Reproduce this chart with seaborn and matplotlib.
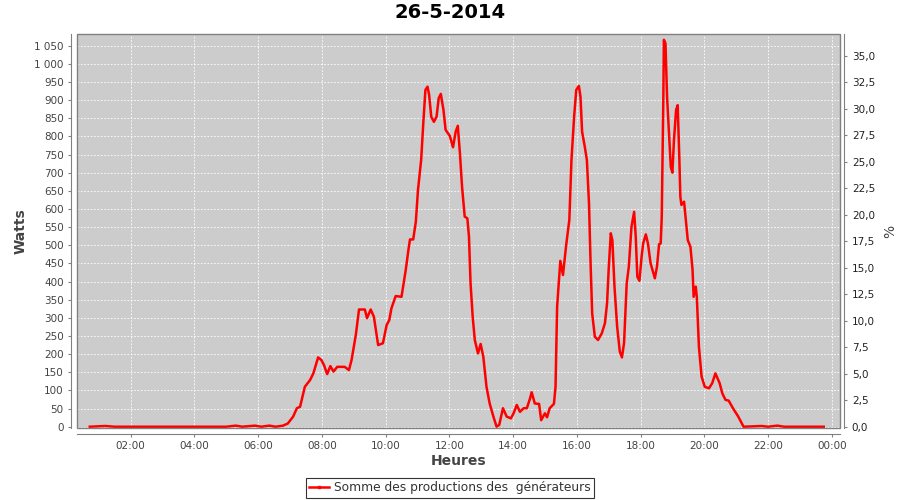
import pandas as pd
import seaborn as sns
import matplotlib.pyplot as plt
import matplotlib.dates as mdates
from matplotlib.lines import Line2D
from matplotlib.patches import Rectangle
from matplotlib.ticker import FuncFormatter, MultipleLocator

# Production data
heures = [
    "00:43", "01:12", "01:30", "02:30", "03:30", "04:30", "05:00", "05:18", "05:30", "05:54",
    "06:06", "06:21", "06:33", "06:47", "06:56", "07:06", "07:13", "07:19", "07:28", "07:38",
    "07:44", "07:53", "07:59", "08:04", "08:10", "08:16", "08:22", "08:29", "08:43", "08:51",
    "08:56", "09:04", "09:10", "09:21", "09:25", "09:32", "09:38", "09:46", "09:55", "10:02",
    "10:07", "10:11", "10:19", "10:30", "10:34", "10:38", "10:43", "10:46", "10:52", "10:57",
    "11:01", "11:07", "11:11", "11:15", "11:19", "11:22", "11:26", "11:31", "11:36", "11:40",
    "11:44", "11:49", "11:53", "12:01", "12:07", "12:12", "12:16", "12:20", "12:24", "12:29",
    "12:34", "12:37", "12:40", "12:44", "12:48", "12:54", "12:59", "13:04", "13:10", "13:16",
    "13:23", "13:29", "13:34", "13:41", "13:48", "13:56", "14:01", "14:07", "14:13", "14:20",
    "14:26", "14:32", "14:35", "14:41", "14:49", "14:53", "15:00", "15:04", "15:09", "15:17",
    "15:20", "15:23", "15:27", "15:29", "15:34", "15:40", "15:46", "15:50", "15:55", "15:59",
    "16:04", "16:07", "16:10", "16:15", "16:19", "16:23", "16:26", "16:29", "16:34", "16:40",
    "16:47", "16:53", "16:57", "17:00", "17:04", "17:07", "17:11", "17:16", "17:21", "17:25",
    "17:29", "17:34", "17:38", "17:43", "17:48", "17:51", "17:54", "17:58", "18:02", "18:05",
    "18:10", "18:14", "18:19", "18:27", "18:31", "18:35", "18:38", "18:40", "18:43", "18:44",
    "18:47", "18:50", "18:54", "18:57", "19:00", "19:03", "19:07", "19:10", "19:13", "19:15",
    "19:17", "19:22", "19:26", "19:29", "19:34", "19:38", "19:40", "19:44", "19:46", "19:50",
    "19:55", "20:01", "20:09", "20:15", "20:21", "20:29", "20:34", "20:40", "20:46", "20:54",
    "21:04", "21:10", "21:14", "21:48", "22:00", "22:18", "22:30", "23:45",
]
watts = [
    0, 2, 0, 0, 0, 0, 0, 3, 0, 3,
    0, 3, 0, 3, 9, 28, 51, 55, 110, 129,
    147, 191, 184, 170, 145, 167, 152, 165, 165, 156,
    184, 253, 323, 323, 299, 323, 303, 225, 230, 280,
    294, 326, 360, 358, 395, 432, 487, 516, 516, 565,
    652, 735, 836, 928, 937, 914, 854, 840, 854, 905,
    917, 873, 818, 801, 770, 813, 829, 753, 661, 579,
    574, 524, 395, 303, 239, 202, 228, 193, 110, 64,
    28, 0, 5, 51, 28, 23, 37, 60, 41, 51,
    51, 78, 95, 64, 63, 18, 37, 26, 51, 63,
    110, 331, 413, 457, 418, 500, 570, 735, 854, 928,
    939, 909, 813, 772, 735, 616, 450, 312, 248, 239,
    257, 285, 340, 432, 533, 514, 386, 276, 207, 191,
    230, 395, 441, 551, 592, 524, 413, 402, 468, 505,
    530, 505, 450, 409, 441, 503, 505, 579, 909, 1066,
    1056, 909, 799, 716, 700, 790, 873, 886, 744, 634,
    611, 620, 560, 514, 496, 432, 358, 386, 358, 220,
    138, 110, 106, 120, 147, 120, 92, 74, 72, 51,
    28, 11, 0, 2, 0, 3, 0, 0,
]
jour = "2014-05-26"
serie = "Somme des productions des  générateurs"

df = pd.DataFrame({"Heure": pd.to_datetime([f"{jour} {h}" for h in heures]),
                   "Watts": watts})

watts_par_pct = 29.21  # right axis scale (W per %)
y_min, y_max = -3.5, 1082

fig = plt.figure(figsize=(9, 5), dpi=100)
ax = fig.add_axes([77 / 900, 1 - 428 / 500, (840 - 77) / 900, (428 - 34) / 500])
ax.set_facecolor("#cccccc")

sns.lineplot(data=df, x="Heure", y="Watts", ax=ax, color="#ff0000", linewidth=1.8,
             legend=False)

t0 = pd.Timestamp(jour)
ax.set_xlim(t0 + pd.Timedelta(hours=0.317), t0 + pd.Timedelta(hours=24.26))
ax.set_ylim(y_min, y_max)
ax.xaxis.set_major_locator(mdates.HourLocator(byhour=range(0, 24, 2)))
ax.xaxis.set_major_formatter(mdates.DateFormatter("%H:%M"))
ax.yaxis.set_major_locator(MultipleLocator(50))
ax.yaxis.set_major_formatter(FuncFormatter(lambda v, p: f"{v:,.0f}".replace(",", " ")))

ax.grid(True, color="white", linestyle=(0, (2, 2)), linewidth=0.6)
for s in ["top", "right"]:
    ax.spines[s].set_visible(False)
for s in ["left", "bottom"]:
    ax.spines[s].set_position(("outward", 4))
    ax.spines[s].set_color("#808080")
ax.add_patch(Rectangle((0, 0), 1, 1, transform=ax.transAxes, fill=False,
                       edgecolor="#808080", linewidth=1.0, clip_on=False, zorder=5))
ax.tick_params(axis="both", labelsize=7.5, colors="#808080", labelcolor="#444444",
               length=2, width=0.8)

ax.set_xlabel("Heures", fontsize=10, fontweight="bold", color="#444444", labelpad=2)
ax.set_ylabel("Watts", fontsize=10, fontweight="bold", color="#444444", labelpad=5)

ax2 = ax.twinx()
ax2.set_ylim(y_min / watts_par_pct, y_max / watts_par_pct)
ax2.yaxis.set_major_locator(MultipleLocator(2.5))
ax2.yaxis.set_major_formatter(FuncFormatter(lambda v, p: f"{v:.1f}".replace(".", ",")))
for s in ["top", "left", "bottom"]:
    ax2.spines[s].set_visible(False)
ax2.spines["right"].set_position(("outward", 3))
ax2.spines["right"].set_color("#808080")
ax2.tick_params(axis="y", labelsize=7.5, colors="#808080", labelcolor="#222222",
                length=2, width=0.8)
ax2.set_ylabel("%", fontsize=10, color="#444444", labelpad=6)

fig.text(0.5, 1 - 13 / 500, "26-5-2014", ha="center", va="center",
         fontsize=14, fontweight="bold")

handle = Line2D([], [], color="#ff0000", linewidth=1.8, marker="s", markersize=1.5)
leg = fig.legend([handle], [serie], loc="center", bbox_to_anchor=(0.5, 1 - 488 / 500),
                 fontsize=8.8, frameon=True, fancybox=False, handlelength=1.6,
                 handletextpad=0.4, borderpad=0.25, borderaxespad=0)
leg.get_frame().set_edgecolor("black")
leg.get_frame().set_linewidth(0.8)
for t in leg.get_texts():
    t.set_color("#333333")

plt.savefig("out.png", dpi=100)
plt.close()
